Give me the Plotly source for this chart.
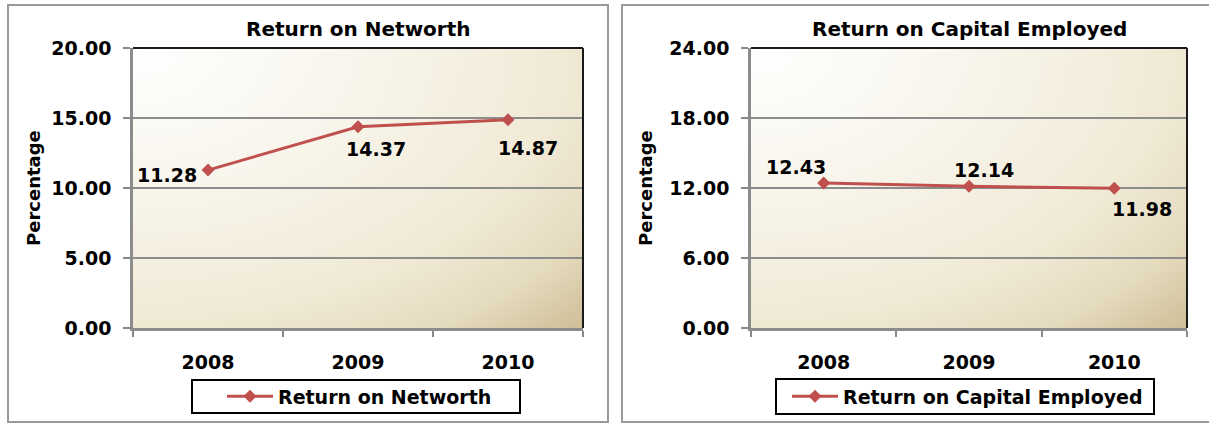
import base64
import plotly.graph_objects as go

# ---- data ----
years = ["2008", "2009", "2010"]
networth_returns = [11.28, 14.37, 14.87]
capital_employed_returns = [12.43, 12.14, 11.98]
networth_ticks = [0, 5, 10, 15, 20]
capital_ticks = [0, 6, 12, 18, 24]
networth_name = "Return on Networth"
capital_name = "Return on Capital Employed"

# per-point label offsets (px) and anchors
networth_label_pos = [("right", -9, -5), ("center", 18, -22), ("center", 20, -28)]
capital_label_pos = [("center", -28, 16), ("center", 15, 16), ("center", 28, -21)]

W, H = 1209, 423
FONT = "DejaVu Sans"
RED = "#C0504D"


def fx(px):
    return px / W


def fy(py):
    return 1 - py / H


# parchment-style fill for the plot areas
svg = (
    '<svg xmlns="http://www.w3.org/2000/svg" width="450" height="280" '
    'viewBox="0 0 450 280" preserveAspectRatio="none">'
    '<defs><radialGradient id="g" cx="0" cy="0" r="1.414" fx="0" fy="0">'
    '<stop offset="0" stop-color="#FFFFFF"/>'
    '<stop offset="0.35" stop-color="#F8F5EC"/>'
    '<stop offset="0.68" stop-color="#F0EAD6"/>'
    '<stop offset="0.85" stop-color="#E5DBBF"/>'
    '<stop offset="1" stop-color="#CFBE97"/>'
    '</radialGradient></defs>'
    '<rect x="0" y="0" width="450" height="280" fill="url(#g)"/></svg>'
)
bg_src = "data:image/svg+xml;base64," + base64.b64encode(svg.encode()).decode()

panels = [
    dict(x0=133, x1=583, box=(8, 5, 608, 422), legend_box=(192, 380, 520, 413),
         legend_x=222, title=networth_name, values=networth_returns,
         ticks=networth_ticks, name=networth_name, labels=networth_label_pos,
         ylab_x=33),
    dict(x0=751, x1=1187, box=(622, 5, 1215, 422), legend_box=(776, 379, 1154, 414),
         legend_x=787, title=capital_name, values=capital_employed_returns,
         ticks=capital_ticks, name=capital_name, labels=capital_label_pos,
         ylab_x=645),
]
Y_TOP, Y_BOT = 48, 328

fig = go.Figure()
shapes, annotations, images = [], [], []
layout_axes = {}

for i, p in enumerate(panels):
    n = "" if i == 0 else str(i + 1)
    xa, ya = "x" + n, "y" + n
    legend_id = "legend" + n

    fig.add_trace(go.Scatter(
        x=years, y=p["values"], mode="lines+markers", name=p["name"],
        xaxis=xa, yaxis=ya, legend=legend_id,
        line=dict(color=RED, width=3),
        marker=dict(symbol="diamond", size=10, color=RED),
    ))

    layout_axes["xaxis" + n] = dict(
        domain=[fx(p["x0"]), fx(p["x1"])], anchor=ya, type="category",
        range=[-0.5, len(years) - 0.5], tickson="boundaries",
        ticks="outside", ticklen=6, tickcolor="#888888", tickwidth=1.5,
        showline=True, linecolor="#8C8C8C", linewidth=2.5, showgrid=False,
        tickfont=dict(family=FONT, size=19, color="black", weight="bold"),
        ticklabelstandoff=15, zeroline=False, fixedrange=True,
    )
    layout_axes["yaxis" + n] = dict(
        domain=[fy(Y_BOT), fy(Y_TOP)], anchor=xa,
        range=[p["ticks"][0], p["ticks"][-1]], tickvals=p["ticks"],
        tickformat=".2f", ticks="outside", ticklen=7, tickcolor="#888888",
        tickwidth=1.5, showline=True, linecolor="#8C8C8C", linewidth=2.5,
        showgrid=True, gridcolor="#8C8C8C", gridwidth=1.5, zeroline=False,
        tickfont=dict(family=FONT, size=19, color="black", weight="bold"),
        ticklabelstandoff=8, fixedrange=True,
    )

    # plot-area fill
    images.append(dict(
        source=bg_src, xref="paper", yref="paper",
        x=fx(p["x0"]), y=fy(Y_TOP), sizex=fx(p["x1"]) - fx(p["x0"]),
        sizey=fy(Y_TOP) - fy(Y_BOT), sizing="stretch", layer="below",
        xanchor="left", yanchor="top",
    ))

    # chart frame
    bx0, by0, bx1, by1 = p["box"]
    shapes.append(dict(type="rect", xref="paper", yref="paper",
                       x0=fx(bx0), x1=fx(bx1), y0=fy(by1), y1=fy(by0),
                       line=dict(color="#9A9A9A", width=2), layer="below"))
    # dark top/right edges of the plot area
    shapes.append(dict(type="line", xref="paper", yref="paper",
                       x0=fx(p["x0"]), x1=fx(p["x1"]), y0=fy(Y_TOP), y1=fy(Y_TOP),
                       line=dict(color="#1A1A1A", width=2)))
    shapes.append(dict(type="line", xref="paper", yref="paper",
                       x0=fx(p["x1"]), x1=fx(p["x1"]), y0=fy(Y_TOP), y1=fy(Y_BOT),
                       line=dict(color="#1A1A1A", width=2)))
    # legend frame
    lx0, ly0, lx1, ly1 = p["legend_box"]
    shapes.append(dict(type="rect", xref="paper", yref="paper",
                       x0=fx(lx0), x1=fx(lx1), y0=fy(ly1), y1=fy(ly0),
                       line=dict(color="black", width=2), fillcolor="white",
                       layer="below"))
    layout_axes[legend_id] = dict(
        x=fx(p["legend_x"]), y=fy((ly0 + ly1) / 2), xanchor="left", yanchor="middle",
        bgcolor="rgba(0,0,0,0)", borderwidth=0, itemwidth=46,
        font=dict(family=FONT, size=19, color="black", weight="bold"),
    )

    # chart title
    annotations.append(dict(
        text=p["title"], xref="paper", yref="paper",
        x=fx((p["x0"] + p["x1"]) / 2), y=fy(29), xanchor="center", yanchor="middle",
        showarrow=False, font=dict(family=FONT, size=20, color="black", weight="bold"),
    ))
    # y axis title
    annotations.append(dict(
        text="Percentage", xref="paper", yref="paper", textangle=-90,
        x=fx(p["ylab_x"]), y=fy(188), xanchor="center", yanchor="middle",
        showarrow=False, font=dict(family=FONT, size=18, color="black", weight="bold"),
    ))
    # value labels (category axis -> position by index)
    for idx, (v, (anchor, dx, dy)) in enumerate(zip(p["values"], p["labels"])):
        annotations.append(dict(
            text=f"{v:.2f}", xref=xa, yref=ya, x=idx, y=v,
            xanchor=anchor, yanchor="middle", xshift=dx, yshift=dy,
            showarrow=False, font=dict(family=FONT, size=19, color="black", weight="bold"),
        ))

fig.update_layout(
    width=W, height=H, margin=dict(l=0, r=0, t=0, b=0, autoexpand=False),
    paper_bgcolor="white", plot_bgcolor="rgba(0,0,0,0)",
    showlegend=True, shapes=shapes, annotations=annotations, images=images,
    **layout_axes,
)

fig.write_html("out.html")
